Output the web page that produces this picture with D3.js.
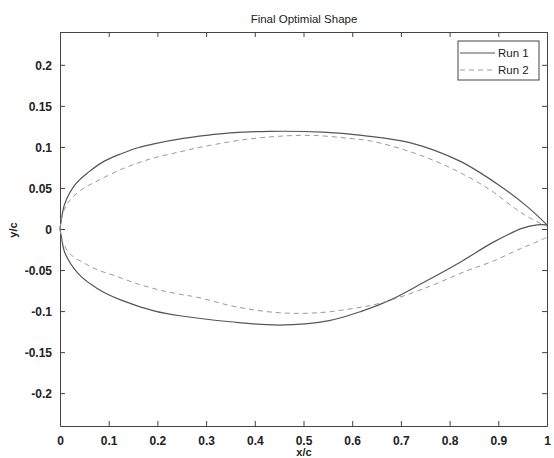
<!DOCTYPE html>
<html><head><meta charset="utf-8">
<script src="https://cdn.jsdelivr.net/npm/d3@7"></script>
<style>
body{margin:0;background:#fff;}
text{font-family:"Liberation Sans",Arial,Helvetica,sans-serif;fill:#222;}
</style></head>
<body><svg id="c" width="554" height="458"></svg>
<script>
const xTicks = [0,0.1,0.2,0.3,0.4,0.5,0.6,0.7,0.8,0.9,1];
const xTickLabels = ["0","0.1","0.2","0.3","0.4","0.5","0.6","0.7","0.8","0.9","1"];
const yTicks = [-0.2,-0.15,-0.1,-0.05,0,0.05,0.1,0.15,0.2];
const yTickLabels = ["-0.2","-0.15","-0.1","-0.05","0","0.05","0.1","0.15","0.2"];
const seriesNames = ["Run 1","Run 2"];

const run1UpperX = [0,0.003,0.010,0.031,0.058,0.092,0.127,0.160,0.195,0.25,0.30,0.35,0.43,0.54,0.62,0.72,0.82,0.90,0.96,1.0];
const run1UpperY = [0,0.012,0.031,0.054,0.069,0.083,0.092,0.099,0.104,0.110,0.114,0.117,0.119,0.118,0.114,0.105,0.083,0.054,0.027,0.005];
const run1LowerX = [0,0.003,0.010,0.037,0.078,0.127,0.195,0.25,0.35,0.45,0.55,0.62,0.68,0.75,0.82,0.89,0.95,0.98,1.0];
const run1LowerY = [0,-0.010,-0.029,-0.054,-0.073,-0.087,-0.100,-0.106,-0.113,-0.117,-0.112,-0.100,-0.086,-0.064,-0.041,-0.016,0.001,0.005,0.005];
const run2UpperX = [0,0.005,0.02,0.047,0.078,0.127,0.158,0.189,0.246,0.30,0.38,0.45,0.52,0.60,0.64,0.72,0.80,0.88,0.93,0.96,1.0];
const run2UpperY = [0,0.018,0.035,0.049,0.059,0.073,0.080,0.086,0.094,0.101,0.109,0.113,0.114,0.110,0.107,0.094,0.075,0.049,0.027,0.015,0.003];
const run2LowerX = [0,0.005,0.02,0.051,0.078,0.113,0.160,0.209,0.251,0.281,0.363,0.45,0.53,0.61,0.66,0.75,0.835,0.89,0.945,0.97,1.0];
const run2LowerY = [0,-0.015,-0.030,-0.042,-0.050,-0.057,-0.067,-0.075,-0.080,-0.083,-0.095,-0.102,-0.102,-0.096,-0.090,-0.072,-0.051,-0.039,-0.024,-0.018,-0.010];

const L=60,R=547,T=32,B=426;
const svg=d3.select("#c");
const x=d3.scaleLinear().domain([0,1]).range([L,R]);
const y=d3.scaleLinear().domain([-0.24,0.24]).range([B,T]);
const axisColor="#444";

const fmtX=(d,i)=>xTickLabels[i], fmtY=(d,i)=>yTickLabels[i];
const gB=svg.append("g").attr("transform",`translate(0,${B})`).call(d3.axisBottom(x).tickValues(xTicks).tickFormat(fmtX).tickSizeInner(-5).tickSizeOuter(0).tickPadding(10));
const gT=svg.append("g").attr("transform",`translate(0,${T})`).call(d3.axisTop(x).tickValues(xTicks).tickFormat("").tickSizeInner(-5).tickSizeOuter(0));
const gL=svg.append("g").attr("transform",`translate(${L},0)`).call(d3.axisLeft(y).tickValues(yTicks).tickFormat(fmtY).tickSizeInner(-5).tickSizeOuter(0).tickPadding(8));
const gR=svg.append("g").attr("transform",`translate(${R},0)`).call(d3.axisRight(y).tickValues(yTicks).tickFormat("").tickSizeInner(-5).tickSizeOuter(0));
[gB,gT,gL,gR].forEach(g=>{
  g.selectAll("path.domain").attr("stroke",axisColor);
  g.selectAll("line").attr("stroke",axisColor);
  g.selectAll("text").attr("font-size",12).attr("font-weight","bold").attr("fill","#222");
});
gL.selectAll("text").attr("dy","0.35em");

svg.append("text").attr("x",304).attr("y",23).attr("text-anchor","middle").attr("font-size",11.5).text("Final Optimial Shape");
svg.append("text").attr("x",304).attr("y",456).attr("text-anchor","middle").attr("font-size",11).attr("font-weight","bold").text("x/c");
svg.append("text").attr("transform","translate(17,230) rotate(-90)").attr("text-anchor","middle").attr("font-size",11).attr("font-weight","bold").text("y/c");

const line=d3.line().x(d=>x(d[0])).y(d=>y(d[1])).curve(d3.curveCatmullRom.alpha(0.5));
const zip=(a,b)=>a.map((v,i)=>[v,b[i]]);
const styles=[{stroke:"#555",dash:null,w:1.2},{stroke:"#999",dash:"5,4",w:1}];
const series=[[zip(run1UpperX,run1UpperY),zip(run1LowerX,run1LowerY)],[zip(run2UpperX,run2UpperY),zip(run2LowerX,run2LowerY)]];
series.forEach((s,i)=>s.forEach(pts=>{
  svg.append("path").attr("d",line(pts)).attr("fill","none").attr("stroke",styles[i].stroke)
    .attr("stroke-width",styles[i].w).attr("stroke-dasharray",styles[i].dash);
}));

const lg=svg.append("g");
lg.append("rect").attr("x",458).attr("y",41).attr("width",81).attr("height",39).attr("fill","#fff").attr("stroke",axisColor);
seriesNames.forEach((n,i)=>{
  const yy=53+i*17;
  lg.append("line").attr("x1",460).attr("x2",495).attr("y1",yy).attr("y2",yy).attr("stroke",styles[i].stroke)
    .attr("stroke-width",styles[i].w).attr("stroke-dasharray",styles[i].dash);
  lg.append("text").attr("x",498).attr("y",yy).attr("dy","0.35em").attr("font-size",11.5).text(n);
});
</script></body></html>
